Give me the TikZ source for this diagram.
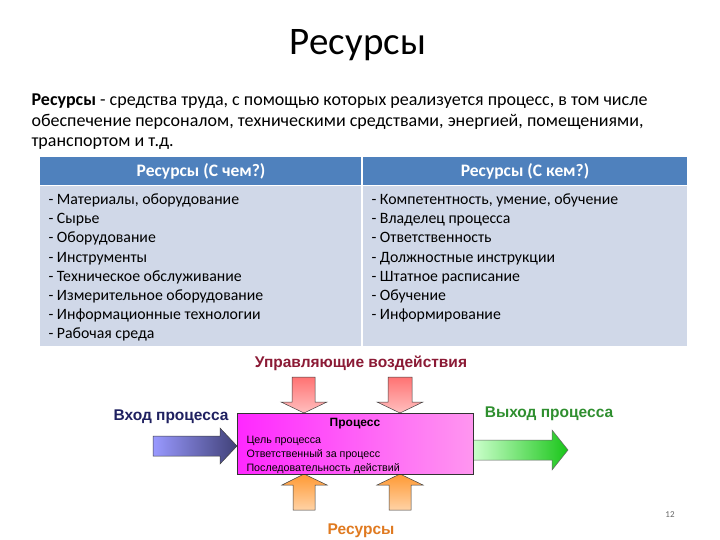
\documentclass[tikz,border=0pt]{standalone}
\usepackage{fontspec}
\setmainfont{Carlito}
\newfontfamily\arialf{Liberation Sans}
\definecolor{hdrblue}{HTML}{4F81BD}
\definecolor{bodyblue}{HTML}{D0D8E8}
\definecolor{ctrlred}{HTML}{8B1A35}
\definecolor{innavy}{HTML}{1F2060}
\definecolor{outgreen}{HTML}{2F8F2F}
\definecolor{resorange}{HTML}{E07A20}
\tikzset{
  para/.style={anchor=base west, font=\fontsize{18}{21}\selectfont},
  item/.style={anchor=base west, font=\fontsize{15.8}{18}\selectfont},
  hdr/.style={font=\bfseries\fontsize{17.5}{20}\selectfont, text=white},
  lbl/.style={font=\arialf\bfseries\fontsize{15.5}{18}\selectfont},
  ptxt/.style={anchor=base west, font=\arialf\fontsize{10.7}{12}\selectfont},
  toparrow/.style={draw=black!75, line width=0.5pt, top color=red!55!white, bottom color=red!25!white},
  botarrow/.style={draw=black!75, line width=0.5pt, top color=orange!80!white, bottom color=orange!35!white},
}
\begin{document}
\begin{tikzpicture}[x=1pt,y=-1pt]
\useasboundingbox (0,0) rectangle (720,540);
\fill[white] (0,0) rectangle (720,540);
\node[font=\fontsize{39}{44}\selectfont] (title) at (358,45) {Ресурсы};
\node[para] (p1) at (28,106) {\textbf{Ресурсы} - средства труда, с помощью которых реализуется процесс, в том числе};
\node[para] (p2) at (28,127) {обеспечение персоналом, техническими средствами, энергией, помещениями,};
\node[para] (p3) at (28,147) {транспортом и т.д.};
% table
\fill[hdrblue] (40,157) rectangle (687,185);
\fill[bodyblue] (40,186) rectangle (687,346);
\draw[white, line width=1.2pt] (362,157) -- (362,346);
\node[hdr] (h1) at (201,171) {Ресурсы (С чем?)};
\node[hdr] (h2) at (525,171) {Ресурсы (С кем?)};
\node[item] (l1) at (45,205) {- Материалы, оборудование};
\node[item] (l2) at (45,224) {- Сырье};
\node[item] (l3) at (45,243) {- Оборудование};
\node[item] (l4) at (45,262) {- Инструменты};
\node[item] (l5) at (45,281) {- Техническое обслуживание};
\node[item] (l6) at (45,300) {- Измерительное оборудование};
\node[item] (l7) at (45,319) {- Информационные технологии};
\node[item] (l8) at (45,338) {- Рабочая среда};
\node[item] (r1) at (368,205) {- Компетентность, умение, обучение};
\node[item] (r2) at (368,224) {- Владелец процесса};
\node[item] (r3) at (368,243) {- Ответственность};
\node[item] (r4) at (368,262) {- Должностные инструкции};
\node[item] (r5) at (368,281) {- Штатное расписание};
\node[item] (r6) at (368,300) {- Обучение};
\node[item] (r7) at (368,319) {- Информирование};
% diagram
\node[lbl, text=ctrlred] (ctrl) at (361,363) {Управляющие воздействия};
\node[lbl, text=innavy] (in) at (171,417) {Вход процесса};
\node[lbl, text=outgreen] (out) at (549,414) {Выход процесса};
\node[lbl, text=resorange] (res) at (361,531) {Ресурсы};
\path[toparrow] (292,377) -- (315,377) -- (315,402) -- (327,402) -- (304,413) -- (281,402) -- (292,402) -- cycle;
\path[toparrow] (388,377) -- (412,377) -- (412,402) -- (423,402) -- (400,413) -- (377,402) -- (388,402) -- cycle;
\path[botarrow] (304,474) -- (327,485) -- (315,485) -- (315,510) -- (293,510) -- (293,485) -- (282,485) -- cycle;
\path[botarrow] (400,474) -- (423,485) -- (411,485) -- (411,510) -- (389,510) -- (389,485) -- (377,485) -- cycle;
\path[draw=black!75, line width=0.5pt, left color=blue!40!white, right color=innavy!85!white]
  (153,436) -- (220,436) -- (220,428) -- (237,446) -- (220,464) -- (220,456) -- (153,456) -- cycle;
\path[draw=black!60, line width=0.5pt, left color=green!20!white, right color=green!75!black!90!white]
  (473,440) -- (552,440) -- (552,430) -- (568,450) -- (552,470) -- (552,460) -- (473,460) -- cycle;
\node[draw=black!80, line width=0.6pt, minimum width=236pt, minimum height=61pt, inner sep=0pt,
      left color={rgb,255:red,255;green,40;blue,255}, right color={rgb,255:red,255;green,150;blue,240}] (proc) at (355,443.5) {};
\node[font=\arialf\bfseries\fontsize{12}{14}\selectfont] (ptitle) at (355,424) {Процесс};
\node[ptxt] (pt1) at (243,443) {Цель процесса};
\node[ptxt] (pt2) at (243,457) {Ответственный за процесс};
\node[ptxt] (pt3) at (243,471) {Последовательность действий};
\node[font=\fontsize{9}{11}\selectfont, text=black!60] (num) at (670,515) {12};
\end{tikzpicture}
\end{document}
